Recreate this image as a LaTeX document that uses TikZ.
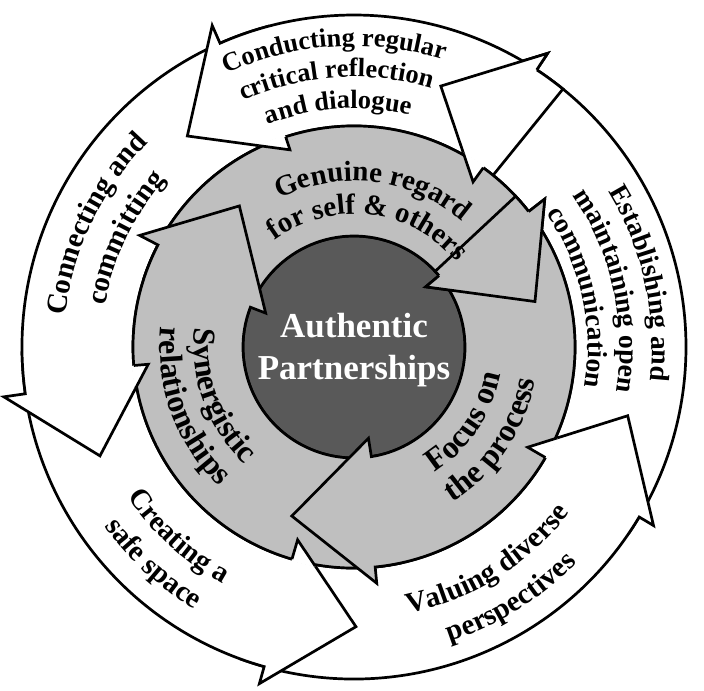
\documentclass[tikz,border=0pt]{standalone}
\usepackage{fontspec}
\setmainfont{Liberation Serif}
\usetikzlibrary{decorations.text}
\definecolor{ringgray}{RGB}{191,191,191}
\definecolor{coregray}{RGB}{89,89,89}
% white (outer ring) arrow: tail, base out, barb out r, tip, tip r, base in, barb in r
\newcommand{\wpath}[7]{(#1:332) arc[start angle=#1, end angle=#2, radius=332] -- (#2:#3) -- (#4:#5) -- (#6:#7) -- (#6:221) arc[start angle=#6, end angle=#1, radius=221] -- cycle}
\newcommand{\gpath}[7]{(#1:221) arc[start angle=#1, end angle=#2, radius=221] -- (#2:#3) -- (#4:#5) -- (#6:#7) -- (#6:111) arc[start angle=#6, end angle=#1, radius=111] -- cycle}
\newcommand{\whead}[6]{(#1:332) -- (#1:#2) -- (#3:#4) -- (#5:#6) -- (#5:221)}
\newcommand{\ghead}[6]{(#1:221) -- (#1:#2) -- (#3:#4) -- (#5:#6) -- (#5:111)}
\newcommand{\outtext}[3]{\path[decorate,decoration={text along path,text align=center,text={#3}}] ({#1+75}:#2) arc[start angle={#1+75}, end angle={#1-75}, radius=#2];}
\newcommand{\intext}[3]{\path[decorate,decoration={text along path,text align=center,text={#3}}] ({#1-75}:#2) arc[start angle={#1-75}, end angle={#1+75}, radius=#2];}
\newcommand{\fW}{\bfseries\fontsize{13.2}{15}\selectfont}
\newcommand{\fE}{\bfseries\fontsize{13.8}{15}\selectfont}
\newcommand{\fV}{\bfseries\fontsize{14.5}{16}\selectfont}
\newcommand{\fG}{\bfseries\fontsize{14.5}{16}\selectfont}
\newcommand{\fS}{\bfseries\fontsize{16}{18}\selectfont}
\tikzset{
  outl/.style={draw=black, line width=1.35pt, line join=miter},
  warrow/.style={outl, fill=white},
  garrow/.style={outl, fill=ringgray},
}
\begin{document}
\begin{tikzpicture}[x=0.5pt,y=0.5pt]
\useasboundingbox (-354,-343) rectangle (350,347);
\fill[white] (-354,-343) rectangle (350,347);
% core
\filldraw[outl, fill=coregray] (0,0) circle[radius=111];
% white arrows (outer ring)
\draw[warrow] \wpath{-34}{56.6}{351.8}{71.6}{275}{54.2}{203.6};   % Establishing
\draw[warrow] \wpath{250}{329.2}{348.7}{345.9}{282.2}{330}{200.5}; % Valuing
\draw[warrow] \wpath{181}{254.3}{349.7}{270.4}{279.7}{253.7}{200.9}; % Creating
\draw[warrow] \wpath{105}{188.1}{353.7}{203.2}{276.4}{184.8}{206.5}; % Connecting
\draw[warrow] \wpath{51}{113.8}{351.4}{128.3}{268.9}{108}{207.3}; % Conducting
\fill[white] \whead{56.6}{351.8}{71.6}{275}{54.2}{203.6} -- cycle;
\draw[outl] \whead{56.6}{351.8}{71.6}{275}{54.2}{203.6};
% gray arrows (middle ring)
\draw[garrow] \gpath{162}{37.8}{241.4}{14.1}{186.6}{40}{93.6};     % Genuine
\draw[garrow] \gpath{282}{152.5}{241.7}{129.1}{181.8}{159}{94.6};  % Synergistic
\draw[garrow] \gpath{43}{-84.5}{237.4}{-110.2}{180.1}{-81}{92.4};  % Focus
\fill[ringgray] \ghead{37.8}{241.4}{14.1}{186.6}{40}{93.6} -- cycle;
\draw[outl] \ghead{37.8}{241.4}{14.1}{186.6}{40}{93.6};
% white arrowhead inner barbs over the gray ring
\begin{scope}
\clip (0,0) circle[radius=223];
\foreach \a/\b/\c/\d/\e/\f in {56.6/351.8/71.6/275/54.2/203.6, 329.2/348.7/345.9/282.2/330/200.5, 254.3/349.7/270.4/279.7/253.7/200.9, 188.1/353.7/203.2/276.4/184.8/206.5, 113.8/351.4/128.3/268.9/108/207.3}{
  \fill[white] \whead{\a}{\b}{\c}{\d}{\e}{\f} -- cycle;
  \draw[outl] \whead{\a}{\b}{\c}{\d}{\e}{\f};
}
\end{scope}
% centre label
\node[text=white, font=\bfseries\fontsize{17.5}{21}\selectfont, align=center] (core) at (0,-3) {Authentic\\Partnerships};
% outer ring labels
\outtext{93.8}{301}{|\fW|Conducting regular}
\outtext{93.8}{270}{|\fW|critical reflection}
\outtext{93.8}{238.5}{|\fW|and dialogue}
\outtext{12.5}{298}{|\fE|Establishing and}
\outtext{12.5}{266}{|\fE|maintaining open}
\outtext{12.5}{234}{|\fE|communication}
\outtext{154.5}{290}{|\fV|Connecting and}
\outtext{154.5}{252}{|\fV|committing}
\intext{227.2}{271}{|\fV|Creating a}
\intext{227.2}{307}{|\fV|safe space}
\intext{302}{272}{|\fV|Valuing diverse}
\intext{302}{310}{|\fV|perspectives}
% middle ring labels
\outtext{83}{166}{|\fG|Genuine regard}
\outtext{83}{133}{|\fG|for self {\&} others}
\intext{200}{160}{|\fS|Synergistic}
\intext{200}{194}{|\fS|relationships}
\intext{326}{149}{|\fS|Focus on}
\intext{326}{184}{|\fS|the process}
\end{tikzpicture}
\end{document}
